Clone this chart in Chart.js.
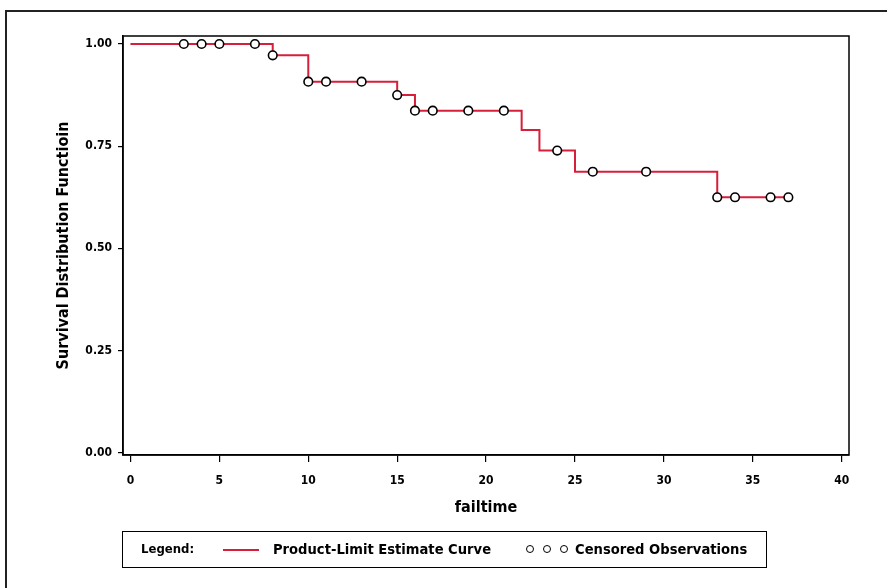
<!DOCTYPE html>
<html>
<head>
<meta charset="utf-8">
<script src="https://cdn.jsdelivr.net/npm/chart.js@4"></script>
<style>
  body { margin: 0; background: #fff; font-family: "DejaVu Sans Condensed", "DejaVu Sans", sans-serif; }
  #wrap { position: relative; width: 887px; height: 588px; overflow: hidden; }
  #frame { position: absolute; left: 5px; top: 10px; width: 1000px; height: 700px;
           border-top: 2px solid #222; border-left: 2px solid #222; }
  #chart { position: absolute; left: 0; top: 0; }
  #legend { position: absolute; left: 122px; top: 531px; width: 643px; height: 35px;
            border: 1px solid #000; font-weight: bold; font-size: 14.6px; color: #000; }
  #legend span, #legend i { position: absolute; }
  .lbl { top: 8px; white-space: nowrap; }
  .swatch { left: 100px; top: 17px; width: 36px; height: 0; border-top: 2px solid #d61f3a; }
  .dot { top: 13px; width: 6px; height: 6px; border: 1.6px solid #000; border-radius: 50%; background: #fff; }
</style>
</head>
<body>
<div id="wrap">
  <div id="frame"></div>
  <canvas id="chart" width="887" height="588"></canvas>
  <div id="legend">
    <span class="lbl" style="left:18px; top:9px; font-size:13px">Legend:</span>
    <i class="swatch"></i>
    <span class="lbl" style="left:150px">Product-Limit Estimate Curve</span>
    <i class="dot" style="left:403px"></i>
    <i class="dot" style="left:420px"></i>
    <i class="dot" style="left:437px"></i>
    <span class="lbl" style="left:452px">Censored Observations</span>
  </div>
</div>
<script>
// step points of the product-limit curve
var stepTimes = [0, 8, 10, 15, 16, 22, 23, 25, 33, 37];
var survival = [1.0, 0.9722, 0.9079, 0.875, 0.8368, 0.7898, 0.7393, 0.6875, 0.625, 0.625];

// censored observations
var censorTimes = [3, 4, 5, 7, 8, 10, 11, 13, 15, 16, 17, 19, 21, 24, 26, 29, 33, 34, 36, 37];
var censorSurv = [1.0, 1.0, 1.0, 1.0, 0.9722, 0.9079, 0.9079, 0.9079, 0.875, 0.8368, 0.8368, 0.8368, 0.8368,
                  0.7393, 0.6875, 0.6875, 0.625, 0.625, 0.625, 0.625];

var xTicks = [0, 5, 10, 15, 20, 25, 30, 35, 40];
var yTicks = [0, 0.25, 0.5, 0.75, 1.0];

var fontFam = '"DejaVu Sans Condensed", "DejaVu Sans", sans-serif';

var curvePts = stepTimes.map(function (t, i) { return { x: t, y: survival[i] }; });
var censorPts = censorTimes.map(function (t, i) { return { x: t, y: censorSurv[i] }; });

// box round the plot area
var plotBox = {
  id: 'plotBox',
  afterDraw: function (chart) {
    var a = chart.chartArea, ctx = chart.ctx;
    ctx.save();
    ctx.strokeStyle = '#000';
    ctx.lineWidth = 1.5;
    ctx.strokeRect(a.left, a.top, a.right - a.left, a.bottom - a.top);
    ctx.restore();
  }
};

var ctx = document.getElementById('chart');
var km = new Chart(ctx, {
  type: 'scatter',
  data: {
    datasets: [{
      label: 'Censored Observations',
      data: censorPts,
      order: 0,
      pointRadius: 4.3,
      pointBorderWidth: 1.6,
      pointBackgroundColor: '#fff',
      pointBorderColor: '#000'
    },
    {
      type: 'line',
      label: 'Product-Limit Estimate Curve',
      data: curvePts,
      order: 1,
      stepped: 'before',
      borderColor: '#d61f3a',
      borderWidth: 2,
      pointRadius: 0,
      fill: false
    }]
  },
  options: {
    responsive: false,
    animation: false,
    layout: { padding: { left: 0, top: 36, right: 38, bottom: 0 } },
    plugins: { legend: { display: false }, tooltip: { enabled: false } },
    scales: {
      x: {
        type: 'linear',
        min: -0.42,
        max: 40.41,
        afterBuildTicks: function (s) { s.ticks = xTicks.map(function (v) { return { value: v }; }); },
        afterFit: function (s) { s.height = 133; },
        grid: { display: true, drawOnChartArea: false, drawTicks: true, tickLength: 7, color: '#000', lineWidth: 1.2 },
        border: { display: true, color: '#000', width: 1.5 },
        ticks: { color: '#000', padding: 12, maxRotation: 0, font: { family: fontFam, size: 12, weight: 'bold' } },
        title: { display: true, text: 'failtime', color: '#000', padding: { top: 0, bottom: 71 },
                 font: { family: fontFam, size: 16, weight: 'bold' } }
      },
      y: {
        min: -0.0056,
        max: 1.0196,
        afterBuildTicks: function (s) { s.ticks = yTicks.map(function (v) { return { value: v }; }); },
        afterFit: function (s) { s.width = 123; },
        grid: { display: true, drawOnChartArea: false, drawTicks: true, tickLength: 5, color: '#000', lineWidth: 1.2 },
        border: { display: true, color: '#000', width: 1.5 },
        ticks: { color: '#000', padding: 6, font: { family: fontFam, size: 12, weight: 'bold' },
                 callback: function (v) { return v.toFixed(2); } },
        title: { display: true, text: 'Survival Distribution Functioin', color: '#000', padding: { top: 54, bottom: 0 },
                 font: { family: fontFam, size: 16, weight: 'bold' } }
      }
    }
  },
  plugins: [plotBox]
});
</script>
</body>
</html>
